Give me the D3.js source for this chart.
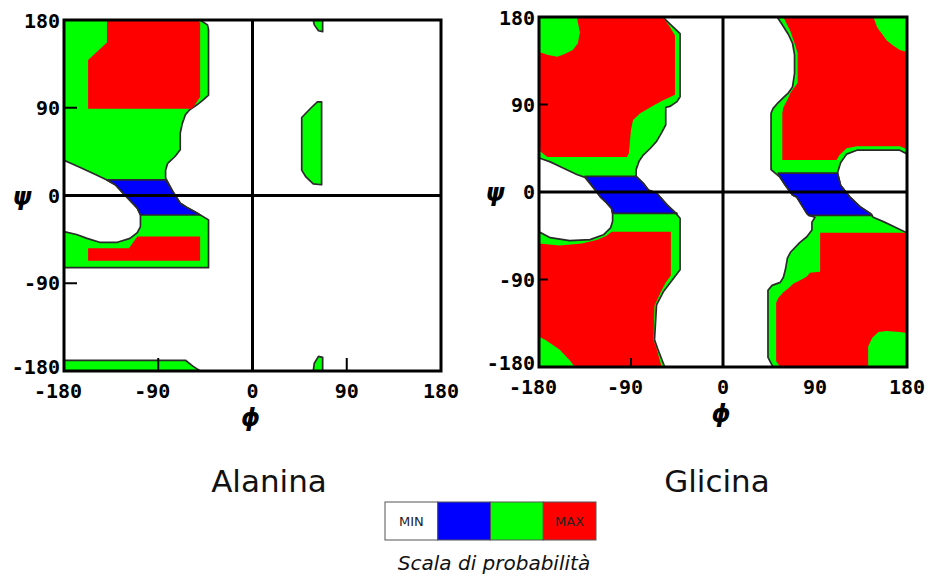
<!DOCTYPE html>
<html><head><meta charset="utf-8">
<script src="https://cdn.jsdelivr.net/npm/d3@7"></script>
<style>body{margin:0;background:#fff}svg{display:block}</style>
</head><body>
<svg id="c" width="935" height="576"></svg>
<script>
// ---------- data ----------
const phiTicks = [-180, -90, 0, 90, 180];
const psiTicks = [180, 90, 0, -90, -180];
const titles = ["Alanina", "Glicina"];
const levels = ["MIN", "", "", "MAX"];          // 0 = white, 1 = blue, 2 = green, 3 = red
const legendTitle = "Scala di probabilità";

// Alanina regions, vertices as [phi, psi]
const alaAllowed = [[-180,180],[-50,180],[-43,175],[-42,170],[-42,103],[-47,98],[-53,93],[-60,88],[-64,83],[-67,74],[-69,64],[-69,47],[-74,40],[-81,33],[-83,26],[-83,18],[-76,4],[-69,-8],[-63,-12],[-53,-18],[-42,-25],[-42,-74],[-180,-74],[-180,-37],[-168,-40],[-158,-44],[-146,-48],[-129,-48],[-117,-44],[-110,-38],[-107,-32],[-107,-20],[-110,-13],[-117,-5],[-124,3],[-131,11],[-139,16],[-149,21],[-165,29],[-180,36]];
const alaRedTop = [[-139,180],[-52,180],[-50,177],[-50,101],[-55,93],[-58,89],[-157,89],[-157,139],[-148,148],[-139,157]];
const alaRedLow = [[-157,-54],[-118,-54],[-110,-42],[-50,-42],[-50,-67],[-157,-67]];
const alaBlue = [[-139,16],[-83,16],[-76,4],[-69,-8],[-63,-12],[-53,-18],[-50,-20],[-107,-20],[-110,-13],[-117,-5],[-124,3],[-131,11]];
const alaStripBottom = [[-180,-169],[-64,-169],[-57,-175],[-50,-180],[-180,-180]];
const alaSliverTop = [[58,180],[67,180],[67,168],[63,169],[59,175]];
const alaLens = [[66,96],[62,96],[56,90],[47,80],[47,26],[51,19],[58,12],[66,11]];
const alaSliverBottom = [[58,-180],[67,-180],[67,-166],[63,-165],[59,-172]];

// Glicina regions
const glyAllowedLeft = [[-180,180],[-59,180],[-52,173],[-45,166],[-42,163],[-42,98],[-45,93],[-52,88],[-56,87],[-56,69],[-60,61],[-65,52],[-71,45],[-78,38],[-82,32],[-85,23],[-85,16],[-78,9],[-73,2],[-65,-1],[-55,-13],[-47,-21],[-42,-27],[-42,-80],[-50,-91],[-58,-102],[-65,-116],[-67,-152],[-64,-161],[-57,-180],[-180,-180],[-180,-41],[-169,-47],[-150,-50],[-130,-49],[-117,-44],[-110,-37],[-108,-30],[-108,-22],[-109,-17],[-114,-11],[-120,-5],[-125,2],[-135,15],[-143,18],[-157,25],[-169,31],[-180,35]];
const glyRedTopLeft = [[-180,180],[-59,180],[-52,170],[-47,161],[-47,100],[-53,97],[-59,94],[-68,89],[-81,81],[-88,74],[-90,64],[-91,53],[-92,40],[-94,36],[-172,36],[-180,43]];
const glyRedLowLeft = [[-180,-53],[-160,-55],[-138,-53],[-123,-49],[-114,-45],[-109,-41],[-51,-41],[-51,-86],[-56,-93],[-61,-103],[-67,-117],[-68,-152],[-65,-161],[-60,-180],[-180,-180]];
const glyGreenTopLeft = [[-180,180],[-143,180],[-140,164],[-142,153],[-147,146],[-155,142],[-162,139],[-171,141],[-180,144]];
const glyGreenLowLeft = [[-180,-149],[-174,-152],[-160,-162],[-150,-173],[-145,-180],[-180,-180]];
const glyBlueLeft = [[-135,16],[-85,16],[-78,9],[-73,2],[-65,-1],[-55,-13],[-47,-21],[-45,-22],[-108,-22],[-109,-17],[-114,-11],[-120,-5],[-125,2]];

const glyAllowedRight = [[53,180],[58,172],[64,162],[68,153],[70,141],[70,122],[68,108],[64,102],[59,97],[54,92],[49,86],[47,81],[47,23],[51,19.5],[56,15],[61,7],[68,-3],[72,-5],[82,-22],[84,-24],[90,-26],[87,-31],[87,-39],[82,-46],[75,-52],[66,-62],[63,-68],[61,-80],[59,-88],[56,-93],[48,-96],[44,-101],[44,-170],[48,-178],[49,-180],[180,-180],[180,-42],[170,-37],[158,-31],[147,-26],[144,-22],[134,-15],[124,-5],[121,-1],[115,7],[112,19.5],[115,30],[121,39],[131,43],[173,43],[180,39],[180,180]];
const glyRedTopRight = [[59,180],[66,165],[70,153],[73,143],[73,112],[66,102],[63,95],[59,87],[58,81],[58,33],[111,33],[114,38],[121,45],[131,47],[173,47],[180,44],[180,180]];
const glyRedLowRight = [[95,-42],[180,-42],[180,-180],[56,-180],[52,-174],[52,-114],[54,-109],[59,-103],[64,-99],[69,-94],[75,-91],[82,-87],[85,-83],[95,-82]];
const glyGreenTopRight = [[147,180],[180,180],[180,144],[173,146],[166,151],[160,156],[156,162],[151,169]];
const glyGreenLowRight = [[142,-180],[142,-159],[146,-150],[152,-144],[160,-143],[173,-144],[180,-145],[180,-180]];
const glyBlueRight = [[54,19.5],[112,19.5],[115,7],[121,-1],[124,-5],[134,-15],[144,-22],[146,-24],[84,-24],[82,-22],[72,-5],[68,-3],[61,7],[56,15]];

// which level each region belongs to, in drawing order; outline = outer allowed-region border
const alaRegions = [
  {pts: alaAllowed, level: 2, outline: true},
  {pts: alaStripBottom, level: 2, outline: true},
  {pts: alaSliverTop, level: 2, outline: true},
  {pts: alaLens, level: 2, outline: true},
  {pts: alaSliverBottom, level: 2, outline: true},
  {pts: alaRedTop, level: 3},
  {pts: alaRedLow, level: 3},
  {pts: alaBlue, level: 1, outline: true}
];
const glyRegions = [
  {pts: glyAllowedLeft, level: 2, outline: true},
  {pts: glyAllowedRight, level: 2, outline: true},
  {pts: glyRedTopLeft, level: 3},
  {pts: glyRedLowLeft, level: 3},
  {pts: glyRedTopRight, level: 3},
  {pts: glyRedLowRight, level: 3},
  {pts: glyGreenTopLeft, level: 2},
  {pts: glyGreenLowLeft, level: 2},
  {pts: glyGreenTopRight, level: 2},
  {pts: glyGreenLowRight, level: 2},
  {pts: glyBlueLeft, level: 1, outline: true},
  {pts: glyBlueRight, level: 1, outline: true}
];
const alaXTicks = [-90, 90];
const glyXTicks = [-90];
const yInnerTicks = [90, -90];

// ---------- drawing ----------
const levelColors = ["#ffffff", "#0000ff", "#00ff00", "#ff0000"];
const svg = d3.select("#c");

const panels = [
  {regions: alaRegions, xTicks: alaXTicks, left: 64, right: 441, top: 20, bottom: 371, tick: 13, psiX: 22, title: titles[0], titleX: 269},
  {regions: glyRegions, xTicks: glyXTicks, left: 539, right: 907, top: 17, bottom: 367, tick: 9, psiX: 495, title: titles[1], titleX: 717}
];

const labelFont = "'DejaVu Sans Mono', monospace";
const labelSize = 20;
const charW = labelSize * 0.602;

panels.forEach((p, i) => {
  const x = d3.scaleLinear().domain([-180, 180]).range([p.left, p.right]);
  const y = d3.scaleLinear().domain([-180, 180]).range([p.bottom, p.top]);
  const g = svg.append("g");
  const clipId = "clip" + i;
  g.append("clipPath").attr("id", clipId).append("rect")
    .attr("x", p.left).attr("y", p.top).attr("width", p.right - p.left).attr("height", p.bottom - p.top);
  const line = d3.line().x(d => x(d[0])).y(d => y(d[1])).curve(d3.curveLinearClosed);
  const rg = g.append("g").attr("clip-path", `url(#${clipId})`);
  p.regions.forEach(r => {
    rg.append("path").attr("d", line(r.pts))
      .attr("fill", levelColors[r.level])
      .attr("stroke", r.outline ? "#2b2b2b" : "none")
      .attr("stroke-width", r.outline ? 1.7 : 0)
      .attr("stroke-linejoin", "round");
  });
  // zero axes
  g.append("line").attr("x1", x(0)).attr("x2", x(0)).attr("y1", p.top).attr("y2", p.bottom).attr("stroke", "#000").attr("stroke-width", 3);
  g.append("line").attr("x1", p.left).attr("x2", p.right).attr("y1", y(0)).attr("y2", y(0)).attr("stroke", "#000").attr("stroke-width", 3);
  // inner ticks
  p.xTicks.forEach(t => g.append("line").attr("x1", x(t)).attr("x2", x(t)).attr("y1", p.bottom).attr("y2", p.bottom - p.tick).attr("stroke", "#000").attr("stroke-width", 2));
  yInnerTicks.forEach(t => g.append("line").attr("x1", p.left).attr("x2", p.left + p.tick).attr("y1", y(t)).attr("y2", y(t)).attr("stroke", "#000").attr("stroke-width", 2));
  // frame
  g.append("rect").attr("x", p.left).attr("y", p.top).attr("width", p.right - p.left).attr("height", p.bottom - p.top)
    .attr("fill", "none").attr("stroke", "#000").attr("stroke-width", 3);
  // tick labels
  g.selectAll(".xl").data(phiTicks).join("text")
    .attr("x", d => x(d) - (d < 0 ? charW / 2 : 0)).attr("y", p.bottom + 20)
    .attr("text-anchor", "middle").attr("dominant-baseline", "central")
    .attr("font-family", labelFont).attr("font-weight", "bold").attr("font-size", labelSize).attr("fill", "#000")
    .text(d => d);
  g.selectAll(".yl").data(psiTicks).join("text")
    .attr("x", p.left - 4).attr("y", d => y(d) + (d === 180 ? 1 : (d === -180 ? -4 : 0)))
    .attr("text-anchor", "end").attr("dominant-baseline", "central")
    .attr("font-family", labelFont).attr("font-weight", "bold").attr("font-size", labelSize).attr("fill", "#000")
    .text(d => d);
  // axis symbols
  g.append("text").attr("x", p.psiX).attr("y", y(0) + 1).attr("text-anchor", "middle").attr("dominant-baseline", "central")
    .attr("font-family", "'DejaVu Sans', sans-serif").attr("font-weight", "bold").attr("font-style", "italic").attr("font-size", 24)
    .text("ψ");
  g.append("text").attr("x", x(0) - 2).attr("y", p.bottom + 47).attr("text-anchor", "middle").attr("dominant-baseline", "central")
    .attr("font-family", "'DejaVu Sans', sans-serif").attr("font-weight", "bold").attr("font-style", "italic").attr("font-size", 24)
    .text("ϕ");
  // title
  svg.append("text").attr("x", p.titleX).attr("y", 492).attr("text-anchor", "middle")
    .attr("font-family", "'DejaVu Sans', sans-serif").attr("font-size", 31).attr("fill", "#111")
    .text(p.title);
});

// legend
const lx = d3.scaleBand().domain(d3.range(levels.length)).range([385, 596]).paddingInner(0);
const lg = svg.append("g");
lg.selectAll("rect").data(levels).join("rect")
  .attr("x", (d, i) => lx(i)).attr("y", 502).attr("width", lx.bandwidth()).attr("height", 38)
  .attr("fill", (d, i) => levelColors[i]).attr("stroke", "#555").attr("stroke-width", 1);
lg.selectAll("text").data(levels).join("text")
  .attr("x", (d, i) => lx(i) + lx.bandwidth() / 2).attr("y", 521)
  .attr("text-anchor", "middle").attr("dominant-baseline", "central")
  .attr("font-family", "'DejaVu Sans', sans-serif").attr("font-size", 13).attr("fill", "#222")
  .text(d => d);
svg.append("text").attr("x", 494).attr("y", 570).attr("text-anchor", "middle")
  .attr("font-family", "'DejaVu Sans', sans-serif").attr("font-style", "italic").attr("font-size", 20).attr("fill", "#111")
  .text(legendTitle);
</script>
</body></html>
